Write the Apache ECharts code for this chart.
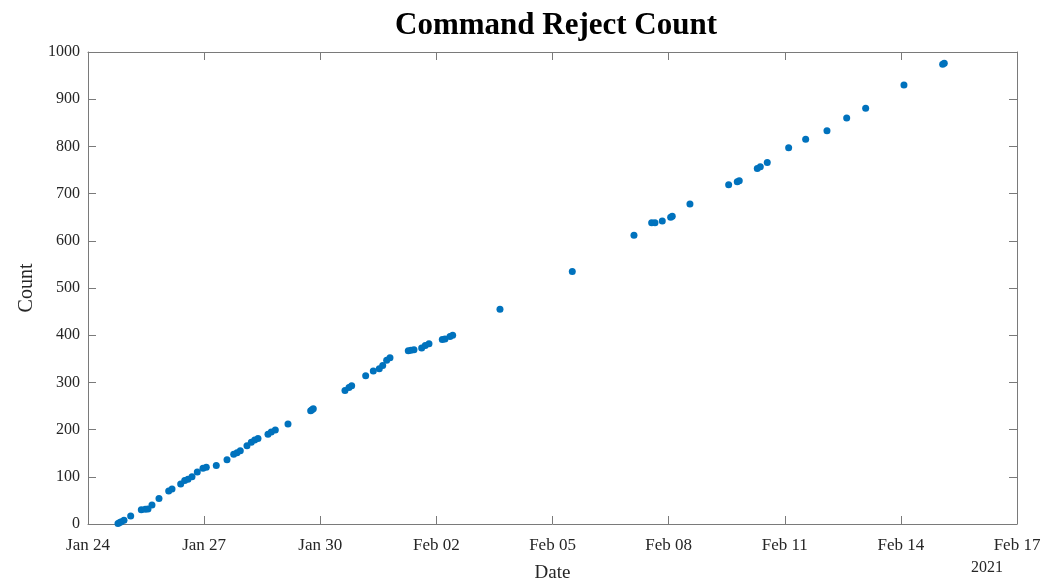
<!DOCTYPE html>
<html>
<head>
<meta charset="utf-8">
<script src="https://cdn.jsdelivr.net/npm/echarts@6/dist/echarts.min.js"></script>
<style>
  html, body { margin: 0; padding: 0; background: #fff; }
  #chart { width: 1059px; height: 578px; }
</style>
</head>
<body>
<div id="chart"></div>
<script>
// reject times (UTC) and running count
const times = [
  "2021-01-24T18:36", "2021-01-24T19:39", "2021-01-24T20:38", "2021-01-24T22:19",
  "2021-01-25T02:28", "2021-01-25T09:03", "2021-01-25T11:31", "2021-01-25T13:12",
  "2021-01-25T15:40", "2021-01-25T20:01", "2021-01-26T02:02", "2021-01-26T04:05",
  "2021-01-26T09:28", "2021-01-26T11:57", "2021-01-26T14:00", "2021-01-26T16:29",
  "2021-01-26T19:46", "2021-01-26T23:18", "2021-01-27T01:21", "2021-01-27T07:32",
  "2021-01-27T14:11", "2021-01-27T18:20", "2021-01-27T20:23", "2021-01-27T22:25",
  "2021-01-28T02:34", "2021-01-28T05:15", "2021-01-28T07:21", "2021-01-28T09:24",
  "2021-01-28T15:36", "2021-01-28T17:38", "2021-01-28T20:08", "2021-01-29T04:00",
  "2021-01-29T18:04", "2021-01-29T18:53", "2021-01-29T19:41", "2021-01-30T15:20",
  "2021-01-30T17:49", "2021-01-30T19:29", "2021-01-31T04:10", "2021-01-31T08:53",
  "2021-01-31T12:36", "2021-01-31T14:43", "2021-01-31T17:11", "2021-01-31T19:14",
  "2021-02-01T06:35", "2021-02-01T08:15", "2021-02-01T10:07", "2021-02-01T14:53",
  "2021-02-01T17:07", "2021-02-01T19:25", "2021-02-02T03:40", "2021-02-02T05:20",
  "2021-02-02T08:26", "2021-02-02T10:06", "2021-02-03T15:26", "2021-02-05T12:16",
  "2021-02-07T02:31", "2021-02-07T13:29", "2021-02-07T15:32", "2021-02-07T20:04",
  "2021-02-08T01:16", "2021-02-08T02:15", "2021-02-08T13:13", "2021-02-09T13:13",
  "2021-02-09T18:33", "2021-02-09T19:48", "2021-02-10T06:58", "2021-02-10T08:50",
  "2021-02-10T13:09", "2021-02-11T02:25", "2021-02-11T12:58", "2021-02-12T02:11",
  "2021-02-12T14:24", "2021-02-13T02:10", "2021-02-14T01:55", "2021-02-15T01:55",
  "2021-02-15T02:54"
];
const counts = [
  1, 3, 5, 8,
  17, 30, 31, 32,
  40, 54, 70, 74,
  85, 92, 95, 100,
  110, 118, 120, 124,
  136, 148, 151, 155,
  166, 173, 178, 181,
  190, 195, 199, 212,
  240, 242, 244, 283,
  289, 293, 314, 324,
  329, 336, 347, 352,
  367, 368, 369, 373,
  378, 382, 391, 392,
  397, 400, 455, 535,
  612, 638, 638, 642,
  650, 652, 678, 719,
  725, 727, 753, 757,
  766, 797, 815, 833,
  860, 881, 930, 974,
  976
];
const xStart = "2021-01-24T00:00";
const xEnd = "2021-02-17T00:00";
const months = ["Jan", "Feb", "Mar", "Apr", "May", "Jun", "Jul", "Aug", "Sep", "Oct", "Nov", "Dec"];

const DAY = 86400000;
const toMs = s => Date.parse(s + "Z");
const points = times.map((t, i) => [toMs(t), counts[i]]);

function dateLabel(v) {
  const d = new Date(v);
  const dd = String(d.getUTCDate()).padStart(2, "0");
  return months[d.getUTCMonth()] + " " + dd;
}

const font = "Liberation Serif";
const axisCol = "#7a7a7a";
const textCol = "#262626";

const baseX = {
  type: "value",
  min: toMs(xStart),
  max: toMs(xEnd),
  interval: 3 * DAY,
  splitLine: { show: false },
  axisLine: { show: true, onZero: false, lineStyle: { color: axisCol, width: 1 } },
  axisTick: { show: true, inside: true, length: 8, lineStyle: { color: axisCol } }
};
const baseY = {
  type: "value",
  min: 0,
  max: 1000,
  interval: 100,
  splitLine: { show: false },
  axisLine: { show: true, onZero: false, lineStyle: { color: axisCol, width: 1 } },
  axisTick: { show: true, inside: true, length: 8, lineStyle: { color: axisCol } }
};

const chart = echarts.init(document.getElementById("chart"));
chart.setOption({
  backgroundColor: "#fff",
  animation: false,
  title: {
    text: "Command Reject Count",
    left: 390,
    top: 5,
    textStyle: { fontFamily: font, fontSize: 31, fontWeight: "bold", color: "#000" }
  },
  grid: { left: 88, right: 42, top: 52, bottom: 54, containLabel: false, outerBoundsMode: "none" },
  xAxis: [
    Object.assign({}, baseX, {
      position: "bottom",
      name: "Date",
      nameLocation: "middle",
      nameGap: 40,
      nameTextStyle: { fontFamily: font, fontSize: 19, color: textCol },
      axisLabel: {
        fontFamily: font, fontSize: 17, color: textCol, margin: 13,
        formatter: dateLabel
      }
    }),
    Object.assign({}, baseX, { position: "top", axisLabel: { show: false } })
  ],
  yAxis: [
    Object.assign({}, baseY, {
      position: "left",
      name: "Count",
      nameLocation: "middle",
      nameGap: 51,
      nameTextStyle: { fontFamily: font, fontSize: 20, color: textCol },
      axisLabel: { fontFamily: font, fontSize: 16, color: textCol, margin: 8, formatter: v => String(v) }
    }),
    Object.assign({}, baseY, { position: "right", axisLabel: { show: false } })
  ],
  graphic: [{
    type: "text",
    right: 56,
    top: 560,
    style: { text: "2021", fontFamily: font, fontSize: 16, fill: textCol }
  }],
  series: [{
    type: "scatter",
    data: points,
    symbolSize: 7,
    itemStyle: { color: "#0072BD", opacity: 1 }
  }]
});
</script>
</body>
</html>
